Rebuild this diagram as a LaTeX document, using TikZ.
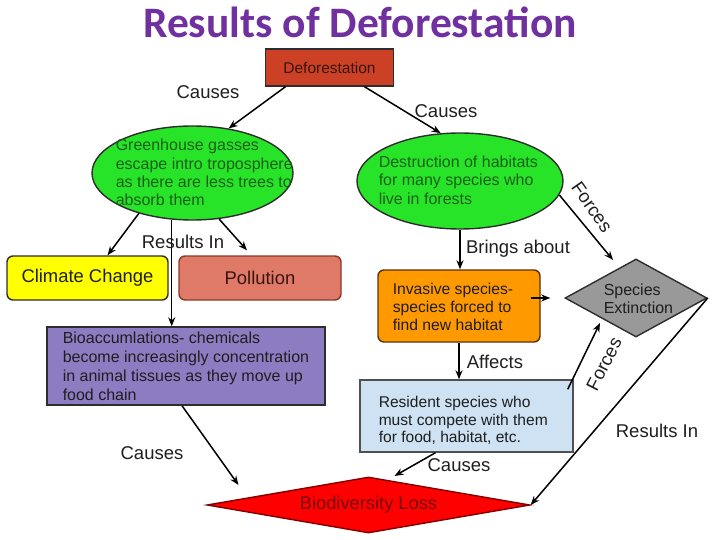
\documentclass[tikz,border=0pt]{standalone}
\usepackage{fontspec}
\setmainfont{Liberation Sans}
\newfontfamily\titlefont{Carlito}
\usetikzlibrary{shapes.geometric, arrows.meta}

\definecolor{boxline}{RGB}{45,45,45}
\definecolor{textdark}{RGB}{30,30,30}
\definecolor{titlepurple}{RGB}{112,48,160}
\definecolor{deforred}{RGB}{204,65,37}
\definecolor{defortext}{RGB}{55,20,15}
\definecolor{leafgreen}{RGB}{40,228,40}
\definecolor{leaftext}{RGB}{25,95,25}
\definecolor{climyellow}{RGB}{255,255,0}
\definecolor{pollsalmon}{RGB}{224,122,104}
\definecolor{pollline}{RGB}{140,55,40}
\definecolor{bioviolet}{RGB}{142,124,195}
\definecolor{invorange}{RGB}{255,153,0}
\definecolor{invline}{RGB}{90,50,10}
\definecolor{extgray}{RGB}{153,153,153}
\definecolor{resblue}{RGB}{207,226,243}
\definecolor{resline}{RGB}{80,80,80}
\definecolor{biodred}{RGB}{255,0,0}
\definecolor{biodline}{RGB}{130,0,0}
\definecolor{biodtext}{RGB}{120,0,0}

\begin{document}
\begin{tikzpicture}[x=1pt, y=-1pt, ->, >={Stealth[length=9pt,width=7pt]}, line width=1.5pt,
  box/.style={rectangle, draw=boxline, line width=1.4pt, inner sep=0pt,
    font=\fontsize{16}{18.5}\selectfont, text=textdark},
  rbox/.style={box, rounded corners=6pt},
  blob/.style={ellipse, draw=boxline, fill=leafgreen, line width=1.4pt, inner sep=0pt},
  boxtext/.style={anchor=west, align=left, inner sep=0pt, text=textdark},
  blobtext/.style={boxtext, text=leaftext, font=\fontsize{16}{18.3}\selectfont},
  gem/.style={diamond, draw=boxline, line width=1.4pt, inner sep=0pt},
  lbl/.style={font=\fontsize{18.5}{20}\selectfont, inner sep=0pt, text=textdark}]

  \useasboundingbox (0,0) rectangle (720,540);

  \node[font=\titlefont\bfseries\fontsize{43.5}{46}\selectfont, text=titlepurple] (title) at (360,22) {Results of Deforestation};

  \node[box, fill=deforred, minimum width=128pt, minimum height=37pt,
    font=\fontsize{15.5}{18}\selectfont, text=defortext] (defor) at (329.5,67.5) {Deforestation};

  \node[blob, minimum width=201pt, minimum height=94pt] (ghg) at (192.5,173) {};
  \node[blobtext] (ghgtext) at (115,172.5)
    {Greenhouse gasses\\escape intro troposphere\\as there are less trees to\\absorb them};
  \node[blob, minimum width=206pt, minimum height=96pt] (hab) at (460,181) {};
  \node[blobtext] (habtext) at (378,180)
    {Destruction of habitats\\for many species who\\live in forests};

  \node[rbox, fill=climyellow, minimum width=161pt, minimum height=44pt,
    font=\fontsize{18.4}{20}\selectfont] (clim) at (87.5,278) {Climate Change};
  \node[rbox, fill=pollsalmon, draw=pollline, minimum width=162pt, minimum height=44pt,
    font=\fontsize{18.4}{20}\selectfont, text=defortext] (poll) at (260,278) {Pollution};

  \node[box, fill=bioviolet, minimum width=278pt, minimum height=78pt] (bio) at (186,366) {};
  \node[boxtext, font=\fontsize{16}{19}\selectfont] (biotext) at (62,366.5)
    {Bioaccumlations- chemicals\\become increasingly concentration\\in animal tissues as they move up\\food chain};

  \node[rbox, fill=invorange, draw=invline, minimum width=162pt, minimum height=72pt] (inv) at (459,306) {};
  \node[boxtext, font=\fontsize{15.7}{18}\selectfont] (invtext) at (392,307)
    {Invasive species-\\species forced to\\find new habitat};

  \node[gem, fill=extgray, minimum width=142pt, minimum height=78pt, aspect=1.82] (ext) at (636,298) {};
  \node[boxtext, font=\fontsize{16}{18}\selectfont] (exttext) at (603,299) {Species\\Extinction};

  \node[box, fill=resblue, draw=resline, minimum width=213pt, minimum height=72pt] (res) at (466.5,416) {};
  \node[boxtext, font=\fontsize{15.6}{17.7}\selectfont] (restext) at (378,420.5)
    {Resident species who\\must compete with them\\for food, habitat, etc.};

  \node[gem, fill=biodred, draw=biodline, minimum width=323pt, minimum height=56pt, aspect=5.77,
    font=\fontsize{18.3}{20}\selectfont, text=biodtext] (biod) at (368.5,505) {Biodiversity Loss};

  \draw ([xshift=-44pt]defor.south) -- (ghg.51);
  \draw ([xshift=35pt]defor.south) -- (hab.112);
  \draw (ghg.217) -- ([xshift=20pt]clim.north);
  \draw (ghg.300) -- ([xshift=-13pt,yshift=5pt]poll.north);
  \draw (ghg.246) -- (ghg.246 |- bio.north);
  \draw ([xshift=-4pt]bio.south) -- ([shift={(-130pt,20pt)}]biod.center);
  \draw (hab.south) -- (hab.south |- inv.north);
  \draw (hab.352) -- ([shift={(-23pt,38pt)}]ext.center);
  \draw ([shift={(-10pt,8pt)}]inv.east) -- ([xshift=-14pt]ext.west);
  \draw (inv.south) -- (inv.south |- res.north);
  \draw ([shift={(-6pt,-10pt)}]res.north east) -- ([shift={(-36pt,-25pt)}]ext.center);
  \draw ([xshift=-31pt]res.south) -- ([shift={(26pt,29pt)}]biod.center);
  \draw (ext.east) -- (biod.east);

  \node[lbl] (causes1) at (208,92) {Causes};
  \node[lbl] (causes2) at (446,111) {Causes};
  \node[lbl, rotate=-55] (forces1) at (592,207) {Forces};
  \node[lbl] (results1) at (183,242) {Results In};
  \node[lbl] (brings) at (518,249) {Brings about};
  \node[lbl] (affects) at (495,362) {Affects};
  \node[lbl, rotate=63] (forces2) at (604,364) {Forces};
  \node[lbl] (results2) at (657,431) {Results In};
  \node[lbl] (causes3) at (152,453) {Causes};
  \node[lbl] (causes4) at (459,465) {Causes};

\end{tikzpicture}
\end{document}
